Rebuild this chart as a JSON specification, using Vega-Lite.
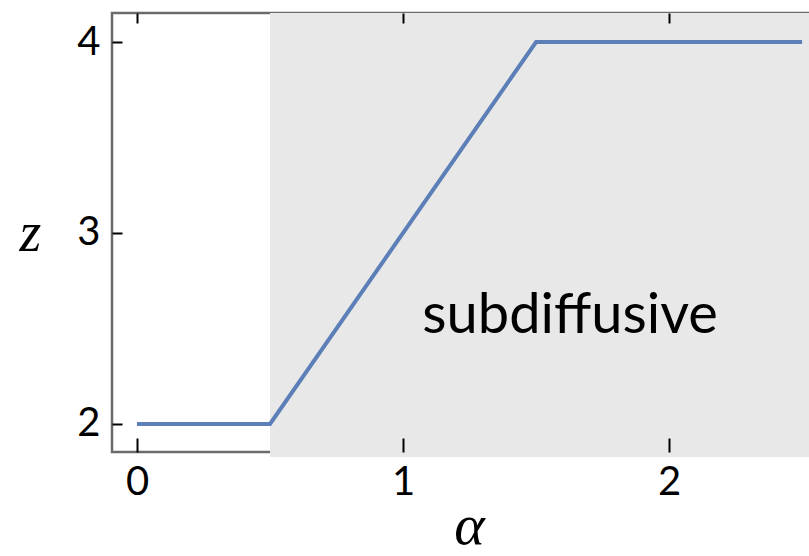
{
  "$schema": "https://vega.github.io/schema/vega-lite/v6.json",
  "autosize": "none",
  "width": 722,
  "height": 439,
  "padding": {"left": 112, "top": 13, "right": 0, "bottom": 104},
  "background": "white",
  "config": {
    "view": {"stroke": "#6b6b6b", "strokeWidth": 2.5},
    "axis": {"grid": false, "domain": false, "tickColor": "black", "tickWidth": 2, "labelFont": "Lato", "labelFontSize": 40, "labelColor": "black"}
  },
  "resolve": {"scale": {"x": "independent", "y": "independent"}, "axis": {"x": "independent", "y": "independent"}},
  "layer": [
    {
      "data": {"values": [{"x0": 0.5, "x1": 2.7, "y0": 1.827, "y1": 4.152}]},
      "mark": {"type": "rect", "color": "#e8e8e8", "clip": false},
      "encoding": {
        "x": {"field": "x0", "type": "quantitative", "scale": {"domain": [-0.094, 2.62], "nice": false, "zero": false},
          "axis": {"orient": "bottom", "zindex": 2, "values": [0, 1, 2], "tickSize": -14, "labelPadding": 24, "format": "d",
            "title": "α", "titleFont": "Liberation Serif", "titleFontStyle": "italic", "titleFontWeight": "normal", "titleFontSize": 58, "titleColor": "black",
            "titleX": 357, "titleY": 91, "titleAlign": "center", "titleBaseline": "alphabetic"}},
        "x2": {"field": "x1"},
        "y": {"field": "y0", "type": "quantitative", "scale": {"domain": [1.853, 4.152], "nice": false, "zero": false},
          "axis": {"orient": "left", "zindex": 2, "values": [2, 3, 4], "tickSize": -10, "labelPadding": 22, "format": "d",
            "title": "z", "titleFont": "Liberation Serif", "titleFontStyle": "italic", "titleFontWeight": "normal", "titleFontSize": 56, "titleColor": "black",
            "titleAngle": 0, "titleX": -82, "titleY": 220, "titleAlign": "center", "titleBaseline": "middle"}},
        "y2": {"field": "y1"}
      }
    },
    {
      "data": {"values": [{"a": 0, "z": 2}, {"a": 0.5, "z": 2}, {"a": 1.5, "z": 4}, {"a": 2.5, "z": 4}]},
      "mark": {"type": "line", "color": "#5b7fb6", "strokeWidth": 4},
      "encoding": {
        "x": {"field": "a", "type": "quantitative", "scale": {"domain": [-0.094, 2.62], "nice": false, "zero": false},
          "axis": {"orient": "top", "zindex": 2, "values": [0, 1, 2], "tickSize": -10, "labels": false, "title": null}},
        "y": {"field": "z", "type": "quantitative", "scale": {"domain": [1.853, 4.152], "nice": false, "zero": false},
          "axis": {"orient": "right", "zindex": 2, "values": [2, 3, 4], "tickSize": -10, "labels": false, "title": null}}
      }
    },
    {
      "data": {"values": [{"a": 1.628, "z": 2.476, "label": "subdiffusive"}]},
      "mark": {"type": "text", "font": "Lato", "fontSize": 56, "color": "black", "align": "center", "baseline": "alphabetic"},
      "encoding": {
        "x": {"field": "a", "type": "quantitative", "scale": {"domain": [-0.094, 2.62], "nice": false, "zero": false}, "axis": null},
        "y": {"field": "z", "type": "quantitative", "scale": {"domain": [1.853, 4.152], "nice": false, "zero": false}, "axis": null},
        "text": {"field": "label"}
      }
    }
  ]
}
